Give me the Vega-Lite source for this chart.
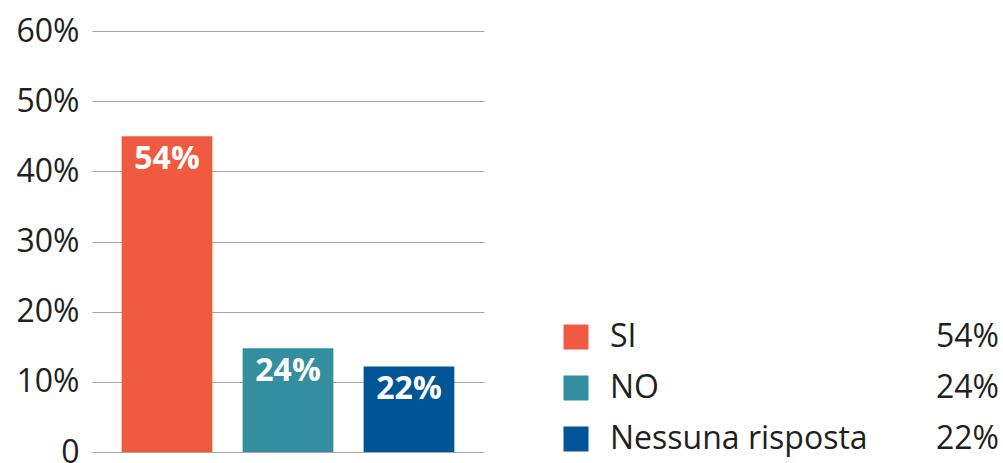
{
  "$schema": "https://vega.github.io/schema/vega-lite/v6.json",
  "autosize": {"type": "none"},
  "padding": {"left": 92, "top": 31, "right": 519, "bottom": 11},
  "width": 392,
  "height": 421,
  "background": "white",
  "config": {
    "view": {"stroke": null},
    "font": "Open Sans",
    "legend": {"padding": 0}
  },
  "data": {
    "values": [
      {"risposta": "SI", "valore": 45.0, "etichetta": "54%"},
      {"risposta": "NO", "valore": 14.8, "etichetta": "24%"},
      {"risposta": "Nessuna risposta", "valore": 12.2, "etichetta": "22%"}
    ]
  },
  "encoding": {
    "x": {
      "field": "risposta",
      "type": "nominal",
      "sort": ["SI", "NO", "Nessuna risposta"],
      "scale": {"paddingInner": 0.25, "paddingOuter": 0.245},
      "axis": null
    },
    "y": {
      "field": "valore",
      "type": "quantitative",
      "scale": {"domain": [0, 60], "nice": false},
      "axis": {
        "title": null,
        "values": [0, 10, 20, 30, 40, 50, 60],
        "labelExpr": "datum.value == 0 ? '0' : datum.value + '%'",
        "domain": false,
        "ticks": false,
        "grid": true,
        "gridColor": "#a6a6a6",
        "gridWidth": 1.2,
        "labelFont": "Open Sans",
        "labelFontSize": 32,
        "labelColor": "#231f20",
        "labelPadding": 13
      }
    }
  },
  "layer": [
    {
      "mark": {"type": "bar"},
      "encoding": {
        "color": {
          "field": "risposta",
          "type": "nominal",
          "scale": {
            "domain": ["SI", "NO", "Nessuna risposta"],
            "range": ["#f05a40", "#338ea0", "#005596"]
          },
          "legend": {
            "title": null,
            "orient": "none",
            "legendX": 468,
            "legendY": 290,
            "symbolType": "square",
            "symbolSize": 625,
            "symbolStrokeWidth": 0,
            "labelFont": "Open Sans",
            "labelFontSize": 32,
            "labelColor": "#231f20",
            "labelOffset": 18,
            "rowPadding": 19,
            "labelLimit": 400
          }
        }
      }
    },
    {
      "mark": {
        "type": "text",
        "color": "white",
        "font": "Open Sans",
        "fontWeight": "bold",
        "fontSize": 32,
        "baseline": "alphabetic",
        "dy": 33
      },
      "encoding": {
        "text": {"field": "etichetta", "type": "nominal"}
      }
    },
    {
      "mark": {"type": "point", "opacity": 0},
      "encoding": {
        "shape": {
          "field": "etichetta",
          "type": "nominal",
          "scale": {"domain": ["54%", "24%", "22%"]},
          "legend": {
            "title": null,
            "orient": "none",
            "legendX": 900,
            "legendY": 290,
            "symbolOpacity": 0,
            "symbolSize": 625,
            "labelAlign": "right",
            "labelOffset": -25,
            "labelFont": "Open Sans",
            "labelFontSize": 32,
            "labelColor": "#231f20",
            "rowPadding": 19
          }
        }
      }
    }
  ]
}
